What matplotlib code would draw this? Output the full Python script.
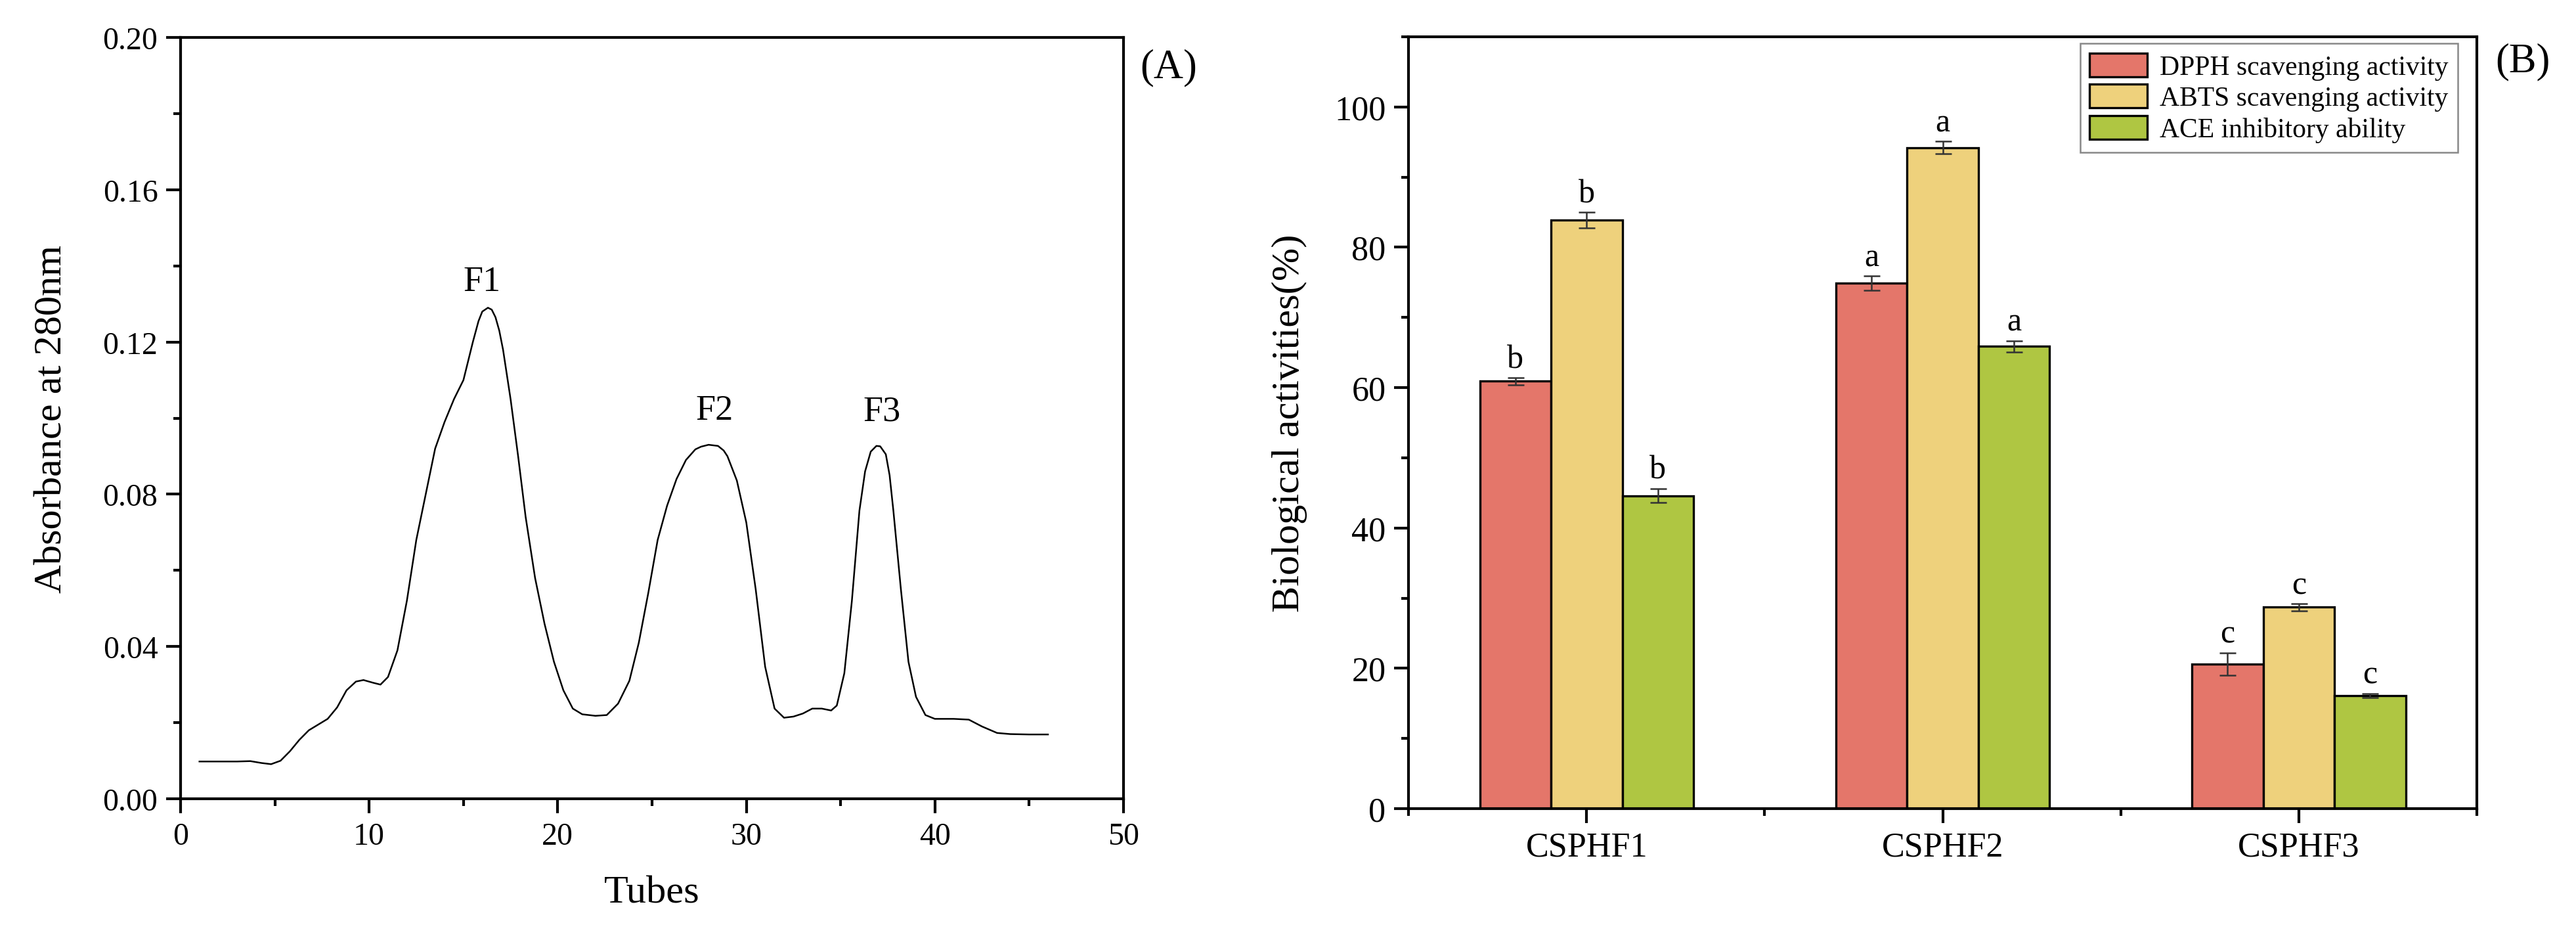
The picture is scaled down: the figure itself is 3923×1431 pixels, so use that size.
import numpy as np
import matplotlib
matplotlib.use('Agg')
import matplotlib.pyplot as plt
from matplotlib.ticker import MultipleLocator, FormatStrFormatter, FixedLocator

plt.rcParams['font.family'] = ['Liberation Serif', 'DejaVu Serif']

# --- panel A: elution profile ---
tubes = [1, 2, 3, 3.7, 4.3, 4.8, 5.3, 5.8, 6.3, 6.8, 7.3, 7.8, 8.3, 8.8, 9.3, 9.7,
         10.2, 10.6, 11.0, 11.5, 12.0, 12.5, 13.0, 13.5, 14.0, 14.5, 15.0, 15.5,
         15.8, 16.0, 16.3, 16.5, 16.7, 16.9, 17.1, 17.5, 17.9, 18.3, 18.8, 19.3,
         19.8, 20.3, 20.8, 21.3, 22.0, 22.6, 23.2, 23.8, 24.3, 24.8, 25.3, 25.8,
         26.3, 26.8, 27.3, 27.6, 28.0, 28.5, 28.8, 29.0, 29.5, 30.0, 30.5, 31.0,
         31.5, 32.0, 32.5, 33.0, 33.5, 34.0, 34.5, 34.8, 35.2, 35.6, 36.0, 36.3,
         36.6, 36.9, 37.1, 37.4, 37.6, 37.8, 38.2, 38.6, 39.0, 39.5, 40.0, 41.0,
         41.8, 42.5, 43.3, 44.0, 45.0, 46.0]
absorb = [0.0098, 0.0098, 0.0098, 0.0099, 0.0094, 0.0091, 0.0100, 0.0125, 0.0155,
          0.0180, 0.0195, 0.0210, 0.0240, 0.0285, 0.0308, 0.0312, 0.0305, 0.0300,
          0.0320, 0.0390, 0.0520, 0.0680, 0.0800, 0.0920, 0.0990, 0.1050, 0.1100,
          0.1200, 0.1255, 0.1280, 0.1290, 0.1285, 0.1265, 0.1230, 0.1180, 0.1050,
          0.0900, 0.0740, 0.0580, 0.0460, 0.0360, 0.0285, 0.0237, 0.0222, 0.0218,
          0.0220, 0.0250, 0.0310, 0.0410, 0.0540, 0.0680, 0.0770, 0.0840, 0.0890,
          0.0918, 0.0925, 0.0930, 0.0927, 0.0915, 0.0900, 0.0836, 0.0726, 0.0550,
          0.0347, 0.0237, 0.0213, 0.0216, 0.0224, 0.0237, 0.0237, 0.0232, 0.0245,
          0.0330, 0.0520, 0.0757, 0.0860, 0.0912, 0.0927, 0.0926, 0.0905, 0.0850,
          0.0757, 0.0550, 0.0360, 0.0268, 0.0220, 0.0210, 0.0210, 0.0208, 0.0190,
          0.0173, 0.0170, 0.0169, 0.0169]
peak_names = ['F1', 'F2', 'F3']
peak_x = [16.0, 28.3, 37.2]
peak_y = [0.1336, 0.0997, 0.0994]

# --- panel B: activities ---
groups = ['CSPHF1', 'CSPHF2', 'CSPHF3']
dpph = [60.9, 74.9, 20.6]
dpph_err = [0.5, 1.0, 1.6]
abts = [83.9, 94.2, 28.7]
abts_err = [1.1, 0.9, 0.5]
ace = [44.6, 65.9, 16.1]
ace_err = [1.0, 0.8, 0.3]
dpph_sig = ['b', 'a', 'c']
abts_sig = ['b', 'a', 'c']
ace_sig = ['b', 'a', 'c']

fig = plt.figure(figsize=(13.077, 4.7733), dpi=300)
axA = fig.add_axes([0.0701, 0.1501, 0.3660, 0.8094])
axB = fig.add_axes([0.5468, 0.1397, 0.4147, 0.8205])

def style_axes(ax, lsize):
    for s in ax.spines.values():
        s.set_linewidth(1.0)
    ax.tick_params(which='both', direction='out', width=1.0, top=False, right=False)
    ax.tick_params(which='major', length=5.3, labelsize=lsize, pad=3)
    ax.tick_params(which='minor', length=2.7)

# panel A
axA.plot(tubes, absorb, color='black', lw=0.6)
for name, x, y in zip(peak_names, peak_x, peak_y):
    axA.text(x, y, name, ha='center', va='baseline', fontsize=13)
axA.set_xlim(0, 50)
axA.set_ylim(0, 0.20)
axA.xaxis.set_major_locator(MultipleLocator(10))
axA.xaxis.set_minor_locator(MultipleLocator(5))
axA.yaxis.set_major_locator(MultipleLocator(0.04))
axA.yaxis.set_minor_locator(MultipleLocator(0.02))
axA.yaxis.set_major_formatter(FormatStrFormatter('%.2f'))
style_axes(axA, 11.5)
axA.set_xlabel('Tubes', fontsize=14.5, labelpad=9)
axA.set_ylabel('Absorbance at 280nm', fontsize=14.5, labelpad=12)

# panel B
xpos = np.arange(len(groups))
w = 0.2
series = [
    (dpph, dpph_err, dpph_sig, '#E4766A', 'DPPH scavenging activity'),
    (abts, abts_err, abts_sig, '#EED17C', 'ABTS scavenging activity'),
    (ace, ace_err, ace_sig, '#AFC642', 'ACE inhibitory ability'),
]
for i, (vals, errs, sig, col, lab) in enumerate(series):
    xs = xpos + (i - 1) * w
    axB.bar(xs, vals, width=w, color=col, edgecolor='black', linewidth=0.8,
            label=lab, zorder=2)
    axB.errorbar(xs, vals, yerr=errs, fmt='none', ecolor='#333333',
                 elinewidth=0.6, capsize=3, capthick=0.6, zorder=3)
    for x, v, e, s in zip(xs, vals, errs, sig):
        axB.text(x, v + e + 1.5, s, ha='center', va='baseline', fontsize=12)

axB.set_xlim(-0.5, 2.5)
axB.set_ylim(0, 110)
axB.set_xticks(xpos)
axB.set_xticklabels(groups)
axB.xaxis.set_minor_locator(FixedLocator([-0.5, 0.5, 1.5, 2.5]))
axB.yaxis.set_major_locator(MultipleLocator(20))
axB.yaxis.set_minor_locator(MultipleLocator(10))
style_axes(axB, 12.5)
axB.set_ylabel('Biological activities(%)', fontsize=14.5, labelpad=10)

leg = axB.legend(loc='upper right', bbox_to_anchor=(0.982, 0.9915),
                 borderaxespad=0, fontsize=10, frameon=True, fancybox=False,
                 edgecolor='#888888', framealpha=1, handlelength=2.1,
                 handleheight=0.95, labelspacing=0.15, handletextpad=0.45,
                 borderpad=0.35)
leg.get_frame().set_linewidth(0.6)

fig.text(0.4537, 0.928, '(A)', ha='center', va='center', fontsize=15)
fig.text(0.9793, 0.934, '(B)', ha='center', va='center', fontsize=15)

fig.savefig('out.png', dpi=300)
